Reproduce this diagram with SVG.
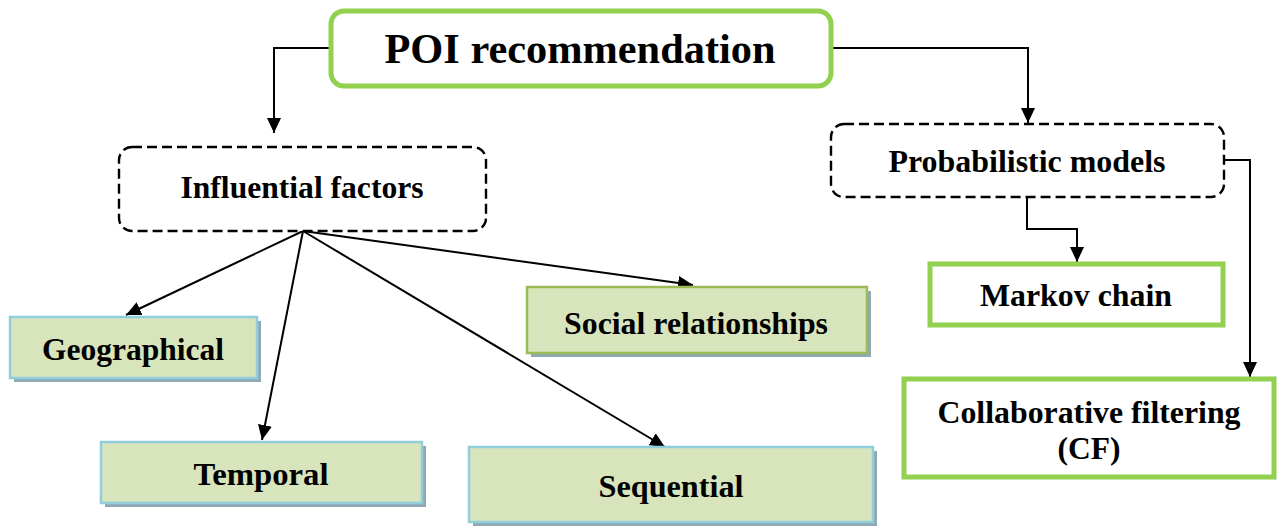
<svg xmlns="http://www.w3.org/2000/svg" width="1285" height="527" viewBox="0 0 1285 527">
  <defs>
    <marker id="arrow" markerUnits="userSpaceOnUse" markerWidth="16" markerHeight="14" refX="15" refY="7" orient="auto">
      <path d="M0,0 L15,7 L0,14 z" fill="#000"/>
    </marker>
  </defs>
  <style>
    text { font-family: "Liberation Serif", "Times New Roman", serif; font-weight: bold; fill: #000; text-anchor: middle; }
    .title { font-size: 42px; }
    .lbl { font-size: 31px; }
    .main { fill: #fff; stroke: #92d050; stroke-width: 5; }
    .dash { fill: #fff; stroke: #000; stroke-width: 2.4; stroke-dasharray: 10 5; }
    .leaf { fill: #d8e4bc; stroke: #92cddc; stroke-width: 2.5; }
    .leaf-g { fill: #d8e4bc; stroke: #9bbb59; stroke-width: 2.5; }
    .shadow { fill: #8fa8b6; }
    .method { fill: #fff; stroke: #92d050; stroke-width: 5; }
    .conn { fill: none; stroke: #000; stroke-width: 2; marker-end: url(#arrow); }
  </style>

  <!-- connectors -->
  <g id="connectors">
    <polyline class="conn" points="329,48 274,48 274,133"/>
    <polyline class="conn" points="832,48 1028,48 1028,123"/>
    <line class="conn" x1="303" y1="231" x2="126" y2="315"/>
    <line class="conn" x1="303" y1="231" x2="262" y2="440"/>
    <line class="conn" x1="303" y1="231" x2="665" y2="447"/>
    <line class="conn" x1="303" y1="231" x2="693" y2="285"/>
    <polyline class="conn" points="1027,197 1027,229 1077,229 1077,262"/>
    <polyline class="conn" points="1224,160 1250,160 1250,377"/>
  </g>

  <!-- root -->
  <g id="poi-recommendation">
    <rect class="main" x="331" y="11" width="500" height="75" rx="13"/>
    <text class="title" x="580" y="63" textLength="391" lengthAdjust="spacingAndGlyphs">POI recommendation</text>
  </g>

  <!-- groupings -->
  <g id="influential-factors">
    <rect class="dash" x="119" y="147" width="367" height="84" rx="13"/>
    <text class="lbl" x="302" y="198" textLength="243" lengthAdjust="spacingAndGlyphs">Influential factors</text>
  </g>
  <g id="probabilistic-models">
    <rect class="dash" x="831" y="124" width="393" height="73" rx="13"/>
    <text class="lbl" x="1027" y="172" textLength="277" lengthAdjust="spacingAndGlyphs">Probabilistic models</text>
  </g>

  <!-- factor leaves -->
  <g id="geographical">
    <rect class="shadow" x="14" y="321" width="247" height="61"/>
    <rect class="leaf" x="10" y="317" width="247" height="61"/>
    <text class="lbl" x="133" y="360" textLength="182" lengthAdjust="spacingAndGlyphs">Geographical</text>
  </g>
  <g id="social-relationships">
    <rect class="shadow" x="531" y="291" width="340" height="66"/>
    <rect class="leaf-g" x="527" y="287" width="340" height="66"/>
    <text class="lbl" x="696" y="334" textLength="264" lengthAdjust="spacingAndGlyphs">Social relationships</text>
  </g>
  <g id="temporal">
    <rect class="shadow" x="105" y="446" width="321" height="61"/>
    <rect class="leaf" x="101" y="442" width="321" height="61"/>
    <text class="lbl" x="261" y="485" textLength="135" lengthAdjust="spacingAndGlyphs">Temporal</text>
  </g>
  <g id="sequential">
    <rect class="shadow" x="473" y="451" width="404" height="75"/>
    <rect class="leaf" x="469" y="447" width="404" height="75"/>
    <text class="lbl" x="671" y="497" textLength="145" lengthAdjust="spacingAndGlyphs">Sequential</text>
  </g>

  <!-- model leaves -->
  <g id="markov-chain">
    <rect class="method" x="930" y="264" width="293" height="61"/>
    <text class="lbl" x="1076" y="306" textLength="192" lengthAdjust="spacingAndGlyphs">Markov chain</text>
  </g>
  <g id="collaborative-filtering">
    <rect class="method" x="904" y="379" width="370" height="98"/>
    <text class="lbl" x="1089" y="423" textLength="303" lengthAdjust="spacingAndGlyphs">Collaborative filtering</text>
    <text class="lbl" x="1089" y="459" textLength="63" lengthAdjust="spacingAndGlyphs">(CF)</text>
  </g>
</svg>
